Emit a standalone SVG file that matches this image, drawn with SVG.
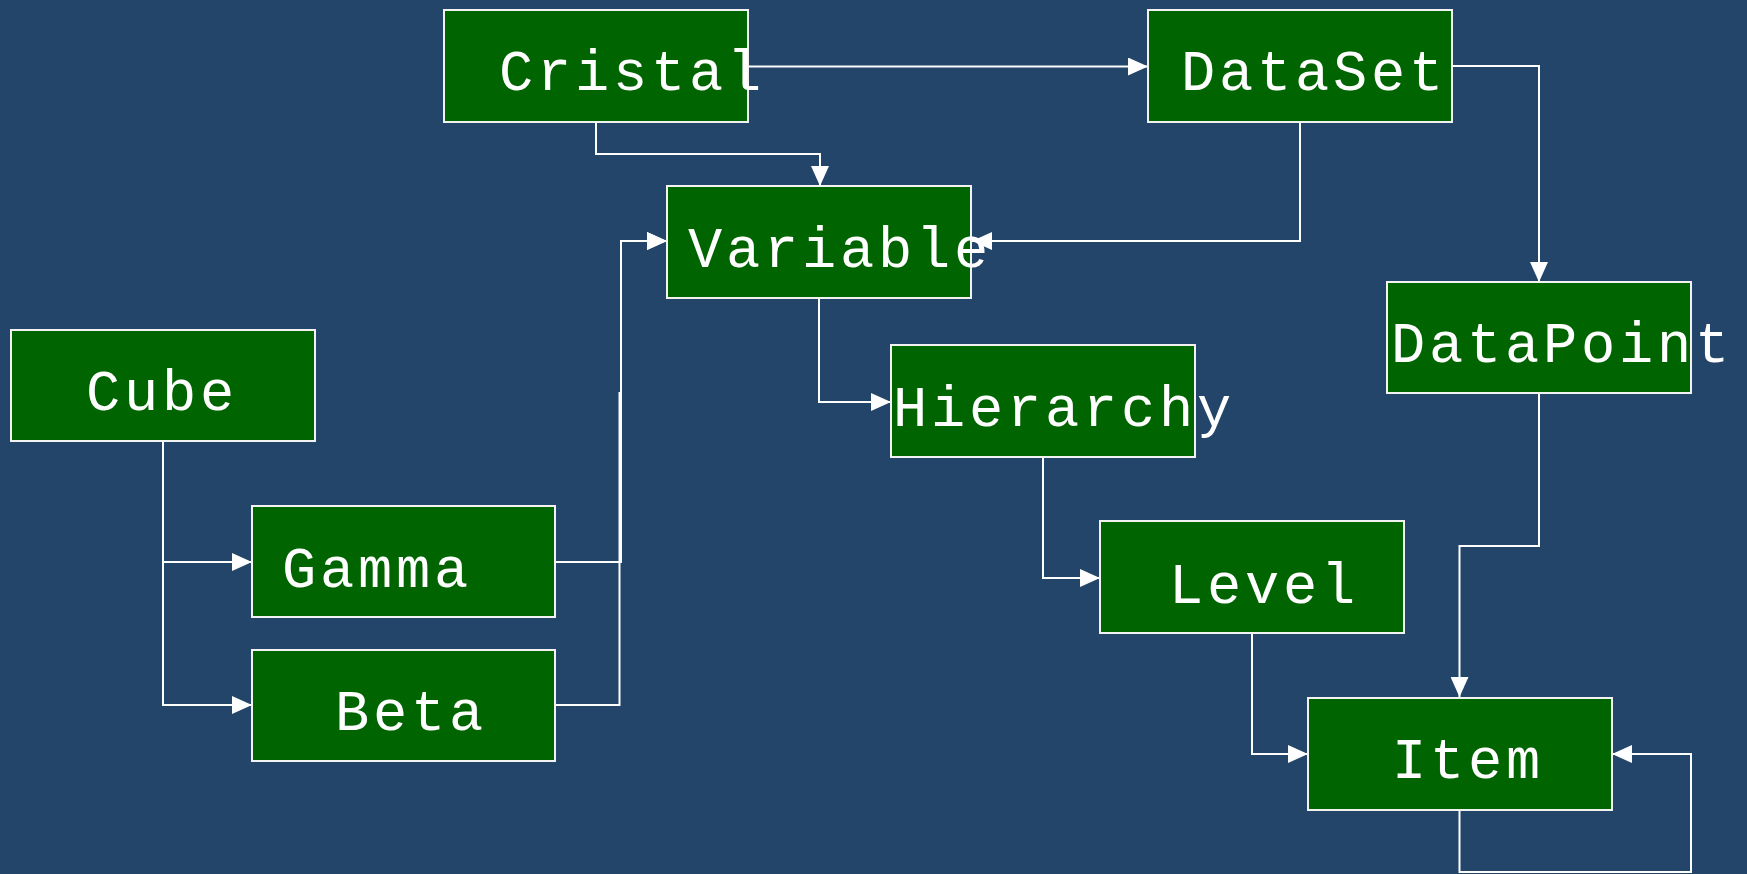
<svg xmlns="http://www.w3.org/2000/svg" width="1747" height="874" viewBox="0 0 1747 874">
<style>
.node rect{fill:#006400;stroke:#f2f2f2;stroke-width:2}
.node text{fill:#ffffff;font-family:"Liberation Mono","Courier New",monospace;font-size:57px;letter-spacing:3.8px}
.edge{fill:none;stroke:#ffffff;stroke-width:2}
</style>
<defs>
<marker id="arr" markerUnits="userSpaceOnUse" markerWidth="20" markerHeight="18" refX="20" refY="9" orient="auto" viewBox="0 0 20 18">
<path d="M0,0 L20,9 L0,18 z" fill="#ffffff"/>
</marker>
</defs>
<rect x="0" y="0" width="1747" height="874" fill="#23456a"/>
<g id="connectors">
<path class="edge" d="M748,66.5 H1148" marker-end="url(#arr)"/>
<path class="edge" d="M596,122 V154 H820 V186" marker-end="url(#arr)"/>
<path class="edge" d="M1300,122 V241 H972" marker-end="url(#arr)"/>
<path class="edge" d="M1452,66 H1539 V282" marker-end="url(#arr)"/>
<path class="edge" d="M555,705 H619.5 V393 H621 V241 H667" marker-end="url(#arr)"/>
<path class="edge" d="M555,562 H621 V241 H667" marker-end="url(#arr)"/>
<path class="edge" d="M163,441 V562 H252" marker-end="url(#arr)"/>
<path class="edge" d="M163,441 V705 H252" marker-end="url(#arr)"/>
<path class="edge" d="M819,298 V402 H891" marker-end="url(#arr)"/>
<path class="edge" d="M1043,457 V578 H1100" marker-end="url(#arr)"/>
<path class="edge" d="M1252,633 V754 H1308" marker-end="url(#arr)"/>
<path class="edge" d="M1539,393 V546 H1459.5 V697" marker-end="url(#arr)"/>
<path class="edge" d="M1459.5,810 V872 H1691 V754 H1612" marker-end="url(#arr)"/>
</g>
<g id="Cristal" class="node"><rect x="444" y="10" width="304" height="112"/><text x="499" y="90">Cristal</text></g>
<g id="DataSet" class="node"><rect x="1148" y="10" width="304" height="112"/><text x="1181" y="90">DataSet</text></g>
<g id="Variable" class="node"><rect x="667" y="186" width="304" height="112"/><text x="688" y="267">Variable</text></g>
<g id="Cube" class="node"><rect x="11" y="330" width="304" height="111"/><text x="86" y="410">Cube</text></g>
<g id="DataPoint" class="node"><rect x="1387" y="282" width="304" height="111"/><text x="1391" y="362">DataPoint</text></g>
<g id="Hierarchy" class="node"><rect x="891" y="345" width="304" height="112"/><text x="893" y="426">Hierarchy</text></g>
<g id="Gamma" class="node"><rect x="252" y="506" width="303" height="111"/><text x="282" y="587">Gamma</text></g>
<g id="Level" class="node"><rect x="1100" y="521" width="304" height="112"/><text x="1169" y="603">Level</text></g>
<g id="Beta" class="node"><rect x="252" y="650" width="303" height="111"/><text x="335" y="730">Beta</text></g>
<g id="Item" class="node"><rect x="1308" y="698" width="304" height="112"/><text x="1392" y="778">Item</text></g>
</svg>
